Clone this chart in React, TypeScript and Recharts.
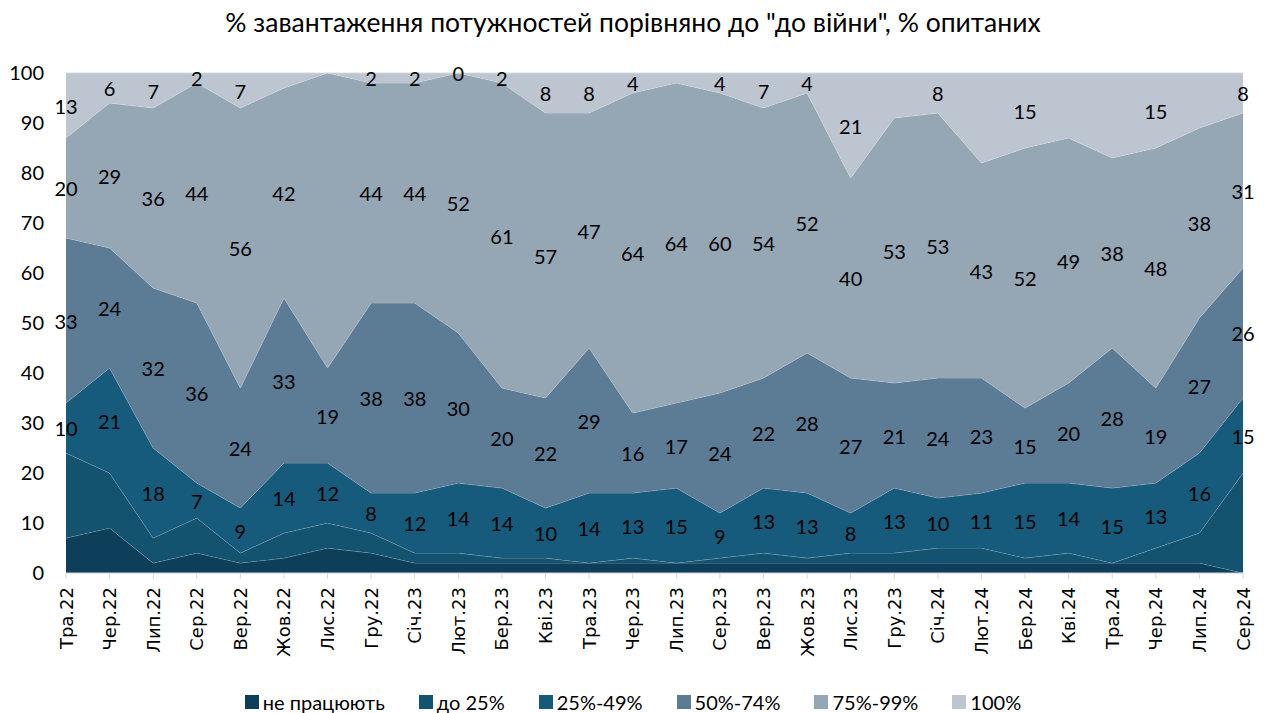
import React from 'react';
import {
  ComposedChart,
  Area,
  Line,
  XAxis,
  YAxis,
  CartesianGrid,
  LabelList,
} from 'recharts';

const months = [
  'Тра.22', 'Чер.22', 'Лип.22', 'Сер.22', 'Вер.22', 'Жов.22', 'Лис.22',
  'Гру.22', 'Січ.23', 'Лют.23', 'Бер.23', 'Кві.23', 'Тра.23', 'Чер.23',
  'Лип.23', 'Сер.23', 'Вер.23', 'Жов.23', 'Лис.23', 'Гру.23', 'Січ.24',
  'Лют.24', 'Бер.24', 'Кві.24', 'Тра.24', 'Чер.24', 'Лип.24', 'Сер.24',
];

// share of respondents by capacity load vs pre-war, %
const notWorking = [7, 9, 2, 4, 2, 3, 5, 4, 2, 2, 2, 2, 2, 2, 2, 2, 2, 2, 2, 2, 2, 2, 2, 2, 2, 2, 2, 0];
const upTo25 = [17, 11, 5, 7, 2, 5, 5, 4, 2, 2, 1, 1, 0, 1, 0, 1, 2, 1, 2, 2, 3, 3, 1, 2, 0, 3, 6, 20];
const p25to49 = [10, 21, 18, 7, 9, 14, 12, 8, 12, 14, 14, 10, 14, 13, 15, 9, 13, 13, 8, 13, 10, 11, 15, 14, 15, 13, 16, 15];
const p50to74 = [33, 24, 32, 36, 24, 33, 19, 38, 38, 30, 20, 22, 29, 16, 17, 24, 22, 28, 27, 21, 24, 23, 15, 20, 28, 19, 27, 26];
const p75to99 = [20, 29, 36, 44, 56, 42, 59, 44, 44, 52, 61, 57, 47, 64, 64, 60, 54, 52, 40, 53, 53, 43, 52, 49, 38, 48, 38, 31];
const full = [13, 6, 7, 2, 7, 3, 0, 2, 2, 0, 2, 8, 8, 4, 2, 4, 7, 4, 21, 9, 8, 18, 15, 13, 17, 15, 11, 8];

// points where the original has no data label
const hidden75to99 = [6];
const hiddenFull = [5, 6, 14, 19, 21, 23, 24, 26];

const series = [
  { key: 's0', name: 'не працюють', values: notWorking, color: '#0e3f5a', labels: false, hidden: [] as number[] },
  { key: 's1', name: 'до 25%', values: upTo25, color: '#13536f', labels: false, hidden: [] as number[] },
  { key: 's2', name: '25%-49%', values: p25to49, color: '#165b7c', labels: true, hidden: [] as number[] },
  { key: 's3', name: '50%-74%', values: p50to74, color: '#5c7b95', labels: true, hidden: [] as number[] },
  { key: 's4', name: '75%-99%', values: p75to99, color: '#95a6b5', labels: true, hidden: hidden75to99 },
  { key: 's5', name: '100%', values: full, color: '#bdc6d0', labels: true, hidden: hiddenFull },
];

const data = months.map((m, i) => {
  const row: Record<string, string | number | null> = { month: m };
  let below = 0;
  series.forEach((s) => {
    const v = s.values[i];
    row[s.key] = v;
    if (s.labels) {
      const show = !s.hidden.includes(i);
      row[`m${s.key}`] = show ? below + v / 2 : null;
      row[`l${s.key}`] = show ? v : null;
    }
    below += v;
  });
  return row;
});

const FONT = 'Lato, "Open Sans", sans-serif';

const XTick = ({ x, y, payload }: any) => (
  <text
    x={x}
    y={y}
    transform={`rotate(-90, ${x}, ${y})`}
    textAnchor="end"
    dominantBaseline="central"
    fontSize={18}
    fontFamily='"DejaVu Sans", sans-serif'
    fill="#000"
  >
    {payload.value}
  </text>
);

const ValueLabel = ({ x, y, value }: any) => {
  if (value === null || value === undefined) return null;
  return (
    <text
      x={x}
      y={y}
      textAnchor="middle"
      dominantBaseline="central"
      fontSize={20}
      fontFamily={FONT}
      fill="#000"
    >
      {value}
    </text>
  );
};

export default function App() {
  return (
    <div style={{ position: 'absolute', left: 0, top: 0, width: 1266, height: 713, background: '#fff' }}>
      <div
        style={{
          position: 'absolute',
          top: 6,
          left: 0,
          width: 1266,
          textAlign: 'center',
          fontFamily: FONT,
          fontSize: 26.5,
          color: '#000',
        }}
      >
        % завантаження потужностей порівняно до "до війни", % опитаних
      </div>
      <ComposedChart
        width={1266}
        height={713}
        data={data}
        margin={{ top: 73, right: 23, left: 0, bottom: 50 }}
      >
        <CartesianGrid vertical={false} stroke="#d9d9d9" />
        <XAxis
          dataKey="month"
          scale="point"
          interval={0}
          height={90}
          stroke="#d9d9d9"
          tickSize={6}
          tickMargin={8}
          tick={<XTick />}
        />
        <YAxis
          domain={[0, 100]}
          ticks={[0, 10, 20, 30, 40, 50, 60, 70, 80, 90, 100]}
          allowDataOverflow
          width={66}
          axisLine={false}
          tickLine={false}
          tickSize={0}
          tickMargin={22}
          tick={{ fontSize: 20, fill: '#000', fontFamily: FONT }}
        />
        {series.map((s) => (
          <Area
            key={s.key}
            type="linear"
            dataKey={s.key}
            name={s.name}
            stackId="a"
            fill={s.color}
            fillOpacity={1}
            stroke="#ffffff"
            strokeOpacity={0.35}
            strokeWidth={1}
            isAnimationActive={false}
          />
        ))}
        {series
          .filter((s) => s.labels)
          .map((s) => (
            <Line
              key={`m${s.key}`}
              type="linear"
              dataKey={`m${s.key}`}
              stroke="none"
              dot={false}
              activeDot={false}
              legendType="none"
              isAnimationActive={false}
            >
              <LabelList dataKey={`l${s.key}`} content={<ValueLabel />} />
            </Line>
          ))}
      </ComposedChart>
      <div
        style={{
          position: 'absolute',
          top: 690,
          left: 0,
          width: 1266,
          display: 'flex',
          justifyContent: 'center',
          alignItems: 'center',
          fontFamily: FONT,
          fontSize: 20,
          color: '#000',
        }}
      >
        {series.map((s) => (
          <div key={s.key} style={{ display: 'flex', alignItems: 'center', margin: '0 17px' }}>
            <span style={{ width: 14, height: 14, background: s.color, marginRight: 4, display: 'inline-block' }} />
            <span>{s.name}</span>
          </div>
        ))}
      </div>
    </div>
  );
}
